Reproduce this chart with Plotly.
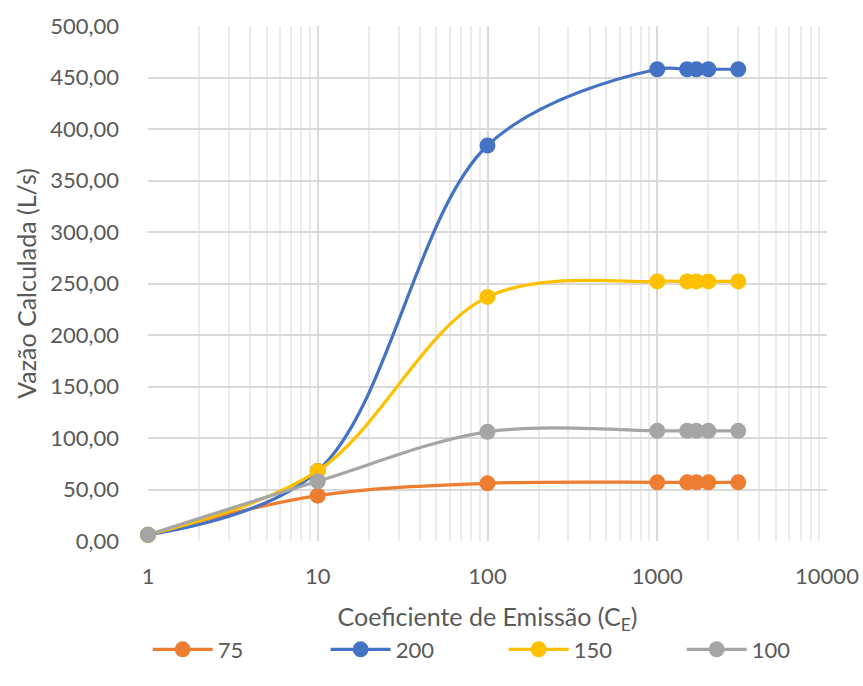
import plotly.graph_objects as go

# Emission coefficient (log scale) and calculated flow for each diameter
coef_emissao = [1, 10, 100, 1000, 1500, 1700, 2000, 3000]
series_names = ["75", "200", "150", "100"]
vazao_75 = [6, 44, 56, 57, 57, 57, 57, 57]
vazao_200 = [6, 68, 384, 458, 458, 458, 458, 458]
vazao_150 = [6, 68, 237, 252, 252, 252, 252, 252]
vazao_100 = [6, 58, 106, 107, 107, 107, 107, 107]
series_colors = ["#ED7D31", "#4472C4", "#FFC000", "#A5A5A5"]

x_tickvals = [1, 10, 100, 1000, 10000]
x_ticktext = ["1", "10", "100", "1000", "10000"]

FONT = "Lato"
TEXT_COLOR = "#595959"
FS = 22        # tick labels and legend
FS_TITLE = 25  # axis titles

fig = go.Figure()
for name, values, color in zip(series_names,
                               [vazao_75, vazao_200, vazao_150, vazao_100],
                               series_colors):
    fig.add_trace(go.Scatter(
        x=coef_emissao, y=values, name=name,
        mode="lines+markers",
        line=dict(color=color, width=3.2, shape="spline", smoothing=1.0),
        marker=dict(color=color, size=16),
        cliponaxis=False,
    ))

fig.update_layout(
    width=863, height=686,
    margin=dict(l=148, r=36, t=26, b=145, autoexpand=False),
    paper_bgcolor="white", plot_bgcolor="white",
    font=dict(family=FONT, size=FS, color=TEXT_COLOR),
    separators=", ",
    showlegend=True,
    # anchored just left of the plot area so the row can use the full width
    legend=dict(orientation="h", x=-0.0005, xanchor="left",
                y=-0.17, yanchor="top",
                font=dict(size=FS, color=TEXT_COLOR),
                itemwidth=60, entrywidth=103,
                itemclick=False),
    xaxis=dict(
        type="log", range=[0, 4],
        tickvals=x_tickvals, ticktext=x_ticktext,
        showgrid=True, gridcolor="#d9d9d9", gridwidth=1.5,
        minor=dict(showgrid=True, gridcolor="#ececec", gridwidth=1.5, dtick="D1"),
        zeroline=False, showline=False, ticks="",
        ticklabelstandoff=20,
        title=dict(text="Coeficiente de Emissão (C<sub>E</sub>)",
                   font=dict(size=FS_TITLE, color=TEXT_COLOR), standoff=20),
        tickfont=dict(size=FS, color=TEXT_COLOR),
    ),
    yaxis=dict(
        range=[0, 500], dtick=50, tickformat=".2f",
        showgrid=True, gridcolor="#d9d9d9", gridwidth=1.5,
        zeroline=False, showline=False, ticks="",
        ticklabelstandoff=28,
        title=dict(text="Vazão Calculada (L/s)",
                   font=dict(size=FS_TITLE, color=TEXT_COLOR), standoff=6),
        tickfont=dict(size=FS, color=TEXT_COLOR),
    ),
)

fig.write_html("out.html")
